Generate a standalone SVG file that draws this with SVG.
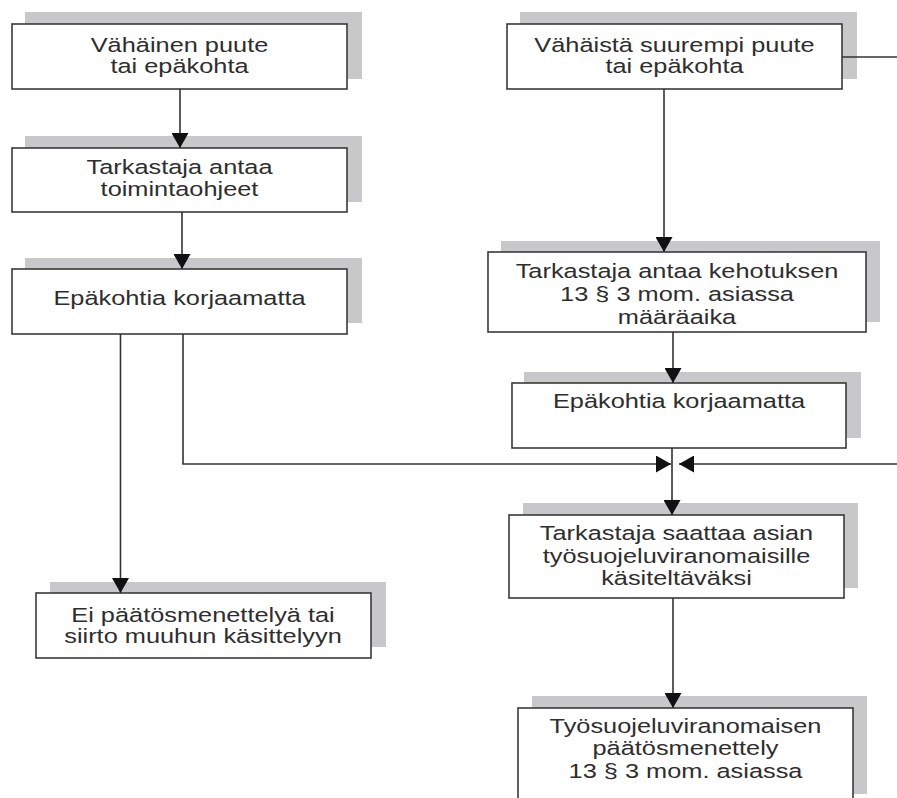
<svg xmlns="http://www.w3.org/2000/svg" width="897" height="798" viewBox="0 0 897 798">
<style>
.sh{fill:#c8c8cb;stroke:none}
.bx{fill:#fff;stroke:#3a3a3a;stroke-width:1.6}
.t{font-family:"Liberation Sans",Arial,sans-serif;font-size:19.5px;fill:#2e2e2e;text-anchor:middle}
.c{fill:none;stroke:#333;stroke-width:1.6}
</style>
<defs>
<marker id="ah" viewBox="0 0 15 17" refX="15" refY="8.5" markerWidth="15" markerHeight="17" markerUnits="userSpaceOnUse" orient="auto">
<path d="M0,0 L15,8.5 L0,17 z" fill="#111"/>
</marker>
</defs>
<rect width="897" height="798" fill="#fff"/>
<g id="n1">
<rect class="sh" x="25" y="12" width="337" height="67"/>
<rect class="bx" x="12" y="24" width="335" height="65"/>
<text class="t" transform="translate(179.5 0) scale(1.3 1)"><tspan x="0" y="52">Vähäinen puute</tspan><tspan x="0" y="73.5">tai epäkohta</tspan></text>
</g>
<g id="n2">
<rect class="sh" x="25" y="136" width="337" height="66"/>
<rect class="bx" x="12" y="148" width="335" height="64"/>
<text class="t" transform="translate(179.5 0) scale(1.3 1)"><tspan x="0" y="174">Tarkastaja antaa</tspan><tspan x="0" y="196">toimintaohjeet</tspan></text>
</g>
<g id="n3">
<rect class="sh" x="25" y="258" width="337" height="65"/>
<rect class="bx" x="12" y="269" width="335" height="65"/>
<text class="t" transform="translate(179.5 0) scale(1.3 1)"><tspan x="0" y="305">Epäkohtia korjaamatta</tspan></text>
</g>
<g id="n4">
<rect class="sh" x="50" y="582" width="336" height="65"/>
<rect class="bx" x="36" y="593" width="335" height="65"/>
<text class="t" transform="translate(203 0) scale(1.3 1)"><tspan x="0" y="622">Ei päätösmenettelyä tai</tspan><tspan x="0" y="643.5">siirto muuhun käsittelyyn</tspan></text>
</g>
<g id="n5">
<rect class="sh" x="520" y="12" width="337" height="67"/>
<rect class="bx" x="507" y="24" width="335" height="65"/>
<text class="t" transform="translate(674.5 0) scale(1.3 1)"><tspan x="0" y="52">Vähäistä suurempi puute</tspan><tspan x="0" y="73.5">tai epäkohta</tspan></text>
</g>
<g id="n6">
<rect class="sh" x="501" y="241" width="379" height="81"/>
<rect class="bx" x="488" y="252" width="378" height="80"/>
<text class="t" transform="translate(677 0) scale(1.3 1)"><tspan x="0" y="278">Tarkastaja antaa kehotuksen</tspan><tspan x="0" y="301">13 § 3 mom. asiassa</tspan><tspan x="0" y="324">määräaika</tspan></text>
</g>
<g id="n7">
<rect class="sh" x="524" y="372" width="337" height="66"/>
<rect class="bx" x="512" y="383" width="334" height="65"/>
<text class="t" transform="translate(679 0) scale(1.3 1)"><tspan x="0" y="408">Epäkohtia korjaamatta</tspan></text>
</g>
<g id="n8">
<rect class="sh" x="523" y="503" width="335" height="85"/>
<rect class="bx" x="509" y="515" width="335" height="83"/>
<text class="t" transform="translate(676.5 0) scale(1.3 1)"><tspan x="0" y="540">Tarkastaja saattaa asian</tspan><tspan x="0" y="563">työsuojeluviranomaisille</tspan><tspan x="0" y="585">käsiteltäväksi</tspan></text>
</g>
<g id="n9">
<rect class="sh" x="532" y="696" width="335" height="98"/>
<rect class="bx" x="518" y="708" width="335" height="100"/>
<text class="t" transform="translate(685.5 0) scale(1.3 1)"><tspan x="0" y="733">Työsuojeluviranomaisen</tspan><tspan x="0" y="755">päätösmenettely</tspan><tspan x="0" y="778">13 § 3 mom. asiassa</tspan></text>
</g>
<g id="connectors">
<path class="c" d="M180,89 V148" marker-end="url(#ah)"/>
<path class="c" d="M182,212 V269" marker-end="url(#ah)"/>
<path class="c" d="M120.5,334 V593" marker-end="url(#ah)"/>
<path class="c" d="M183,334 V464 H671" marker-end="url(#ah)"/>
<path class="c" d="M664,89 V252" marker-end="url(#ah)"/>
<path class="c" d="M673,332 V383" marker-end="url(#ah)"/>
<path class="c" d="M672,448 V515" marker-end="url(#ah)"/>
<path class="c" d="M842,57 H897"/>
<path class="c" d="M897,464 H679" marker-end="url(#ah)"/>
<path class="c" d="M673,598 V708" marker-end="url(#ah)"/>
</g>
</svg>
